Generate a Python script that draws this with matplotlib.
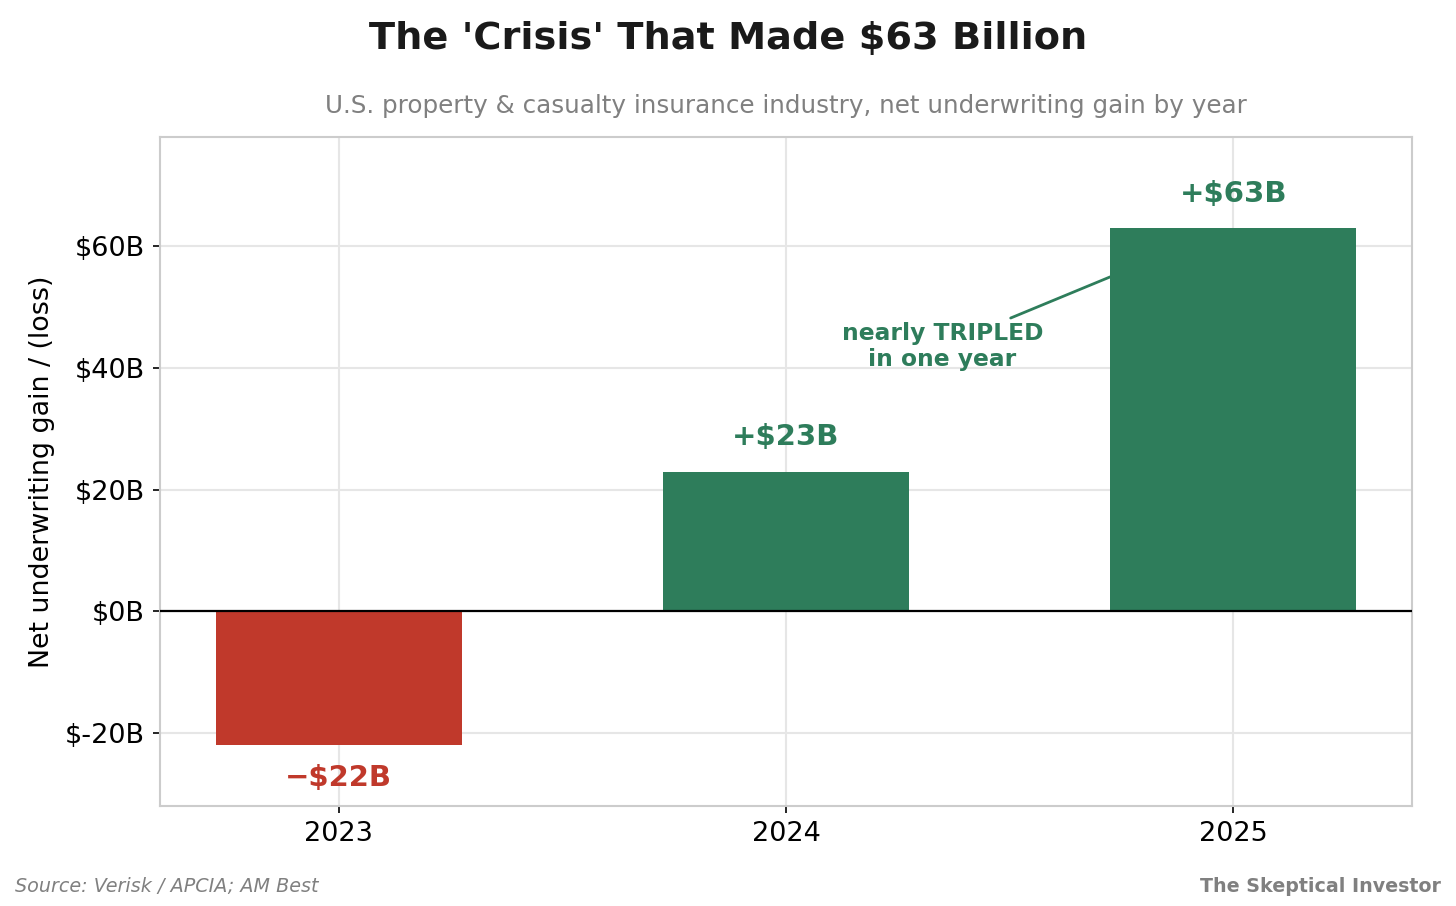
import matplotlib
matplotlib.use("Agg")
import matplotlib.pyplot as plt

years = ["2023", "2024", "2025"]
gains = [-22, 23, 63]
bar_labels = ["\u2212$22B", "+$23B", "+$63B"]
yticks = [-20, 0, 20, 40, 60]
ytick_labels = ["$-20B", "$0B", "$20B", "$40B", "$60B"]

RED = "#C0392B"
GREEN = "#2E7D5B"

plt.rcParams['font.family'] = ['DejaVu Sans']

fig = plt.figure(figsize=(14.56, 9.06), dpi=100)
ax = fig.add_axes([160/1456, 1-806/906, (1412-160)/1456, (806-137)/906])

x = list(range(len(years)))
colors = [RED if g < 0 else GREEN for g in gains]
ax.bar(x, gains, width=0.55, color=colors, zorder=3)

ax.set_xlim(-0.4, 2.4)
ax.set_ylim(-32, 78)
ax.set_xticks(x)
ax.set_xticklabels(years, fontsize=19.5)
ax.set_yticks(yticks)
ax.set_yticklabels(ytick_labels, fontsize=19.5)
ax.tick_params(axis='both', length=5, width=1.2, color='black', pad=6)
ax.grid(True, color='#e6e6e6', linewidth=1.5, zorder=0)
ax.set_axisbelow(True)
for s in ax.spines.values():
    s.set_color('#cccccc')
    s.set_linewidth(1.5)
ax.axhline(0, color='black', linewidth=1.6, zorder=4)

ax.set_ylabel("Net underwriting gain / (loss)", fontsize=19.4, labelpad=7)
ax.set_title("U.S. property & casualty insurance industry, net underwriting gain by year",
             fontsize=17.7, color='#808080', pad=17)

for xi, g, lab, c in zip(x, gains, bar_labels, colors):
    yy = g + 5.6 if g >= 0 else g - 5.4
    ax.text(xi, yy, lab, ha='center', va='center', fontsize=21,
            fontweight='bold', color=c, zorder=5)

ax.annotate("nearly TRIPLED\nin one year", xy=(1.725, 55), xytext=(1.35, 43.6),
            ha='center', va='center', fontsize=16.8, fontweight='bold', color=GREEN,
            linespacing=1.15,
            arrowprops=dict(arrowstyle='-', color=GREEN, linewidth=2,
                            shrinkA=2, shrinkB=0), zorder=5)

fig.text(0.5, 1-39/906, "The 'Crisis' That Made $63 Billion", ha='center', va='center',
         fontsize=27.5, fontweight='bold', color='#1a1a1a')
fig.text(15/1456, 1-886/906, "Source: Verisk / APCIA; AM Best", ha='left', va='center',
         fontsize=13.8, fontstyle='italic', color='#808080')
fig.text(1441/1456, 1-886/906, "The Skeptical Investor", ha='right', va='center',
         fontsize=13.7, fontweight='bold', color='#808080')

fig.savefig("out.png", dpi=100)
